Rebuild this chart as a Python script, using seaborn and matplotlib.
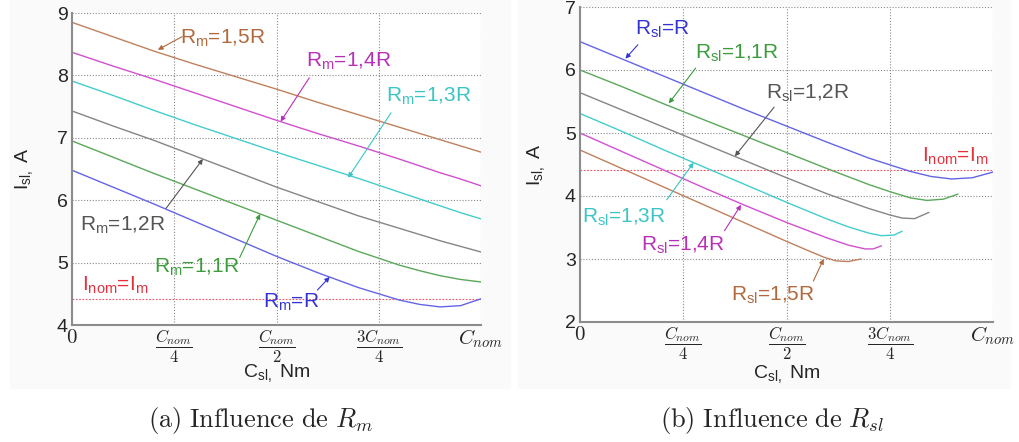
import matplotlib
matplotlib.use('Agg')
import matplotlib.pyplot as plt
from matplotlib.patches import Rectangle
import seaborn as sns
import pandas as pd

# ---- data, x in fractions of C_nom ----
# (a) influence of R_m
rm_names = ['R', '1,1R', '1,2R', '1,3R', '1,4R', '1,5R']
rm_x = [0, .1, .2, .3, .4, .5, .6, .7, .8, .85, .9, .95, 1.0]
rm_y = {
    'R':    [6.48, 6.21, 5.94, 5.66, 5.38, 5.10, 4.84, 4.60, 4.40, 4.33, 4.29, 4.31, 4.42],
    '1,1R': [6.95, 6.69, 6.43, 6.18, 5.93, 5.68, 5.43, 5.18, 4.96, 4.87, 4.79, 4.73, 4.69],
    '1,2R': [7.43, 7.19, 6.96, 6.71, 6.46, 6.21, 5.98, 5.75, 5.55, 5.45, 5.35, 5.26, 5.17],
    '1,3R': [7.91, 7.68, 7.44, 7.21, 6.99, 6.77, 6.56, 6.35, 6.13, 6.02, 5.91, 5.80, 5.70],
    '1,4R': [8.37, 8.15, 7.94, 7.72, 7.50, 7.28, 7.07, 6.87, 6.66, 6.55, 6.44, 6.34, 6.23],
    '1,5R': [8.85, 8.62, 8.39, 8.18, 7.98, 7.78, 7.57, 7.37, 7.17, 7.07, 6.97, 6.87, 6.77],
}

# (b) influence of R_sl (each curve stops at its own torque)
rsl_names = ['R', '1,1R', '1,2R', '1,3R', '1,4R', '1,5R']
rsl_x = {
    'R':    [0, .1, .2, .3, .4, .5, .6, .7, .8, .85, .9, .95, 1.0],
    '1,1R': [0, .1, .2, .3, .4, .5, .6, .7, .75, .8, .84, .88, .915],
    '1,2R': [0, .1, .2, .3, .4, .5, .6, .7, .75, .78, .81, .845],
    '1,3R': [0, .1, .2, .3, .4, .5, .6, .65, .7, .73, .76, .78],
    '1,4R': [0, .1, .2, .3, .4, .5, .6, .65, .69, .71, .73],
    '1,5R': [0, .1, .2, .3, .4, .5, .55, .59, .62, .65, .68],
}
rsl_y = {
    'R':    [6.45, 6.18, 5.91, 5.64, 5.37, 5.11, 4.85, 4.60, 4.39, 4.31, 4.27, 4.29, 4.38],
    '1,1R': [6.00, 5.74, 5.47, 5.21, 4.95, 4.69, 4.43, 4.18, 4.07, 3.97, 3.93, 3.95, 4.03],
    '1,2R': [5.64, 5.37, 5.10, 4.83, 4.56, 4.29, 4.03, 3.80, 3.70, 3.65, 3.64, 3.74],
    '1,3R': [5.31, 5.03, 4.74, 4.46, 4.18, 3.90, 3.63, 3.51, 3.41, 3.37, 3.38, 3.44],
    '1,4R': [5.00, 4.71, 4.42, 4.13, 3.85, 3.58, 3.33, 3.22, 3.16, 3.16, 3.21],
    '1,5R': [4.73, 4.44, 4.15, 3.86, 3.57, 3.28, 3.14, 3.03, 2.97, 2.96, 3.00],
}
i_nom = 4.42

x_ticks = [0, 0.25, 0.5, 0.75, 1.0]
x_ticklabels = ['$0$', r'$\dfrac{C_{nom}}{4}$', r'$\dfrac{C_{nom}}{2}$',
                r'$\dfrac{3C_{nom}}{4}$', r'$C_{nom}$']

line_colors = {'R': '#6464e6', '1,1R': '#5aa85a', '1,2R': '#858585',
               '1,3R': '#44cccc', '1,4R': '#d050d0', '1,5R': '#c0805c'}
text_colors = {'R': '#3434d4', '1,1R': '#3c9c3c', '1,2R': '#555555',
               '1,3R': '#3cc4c4', '1,4R': '#b830b8', '1,5R': '#b0683c'}
red = '#e8303c'

# label centre, arrow tail, arrow tip (data coords)
rm_notes = {
    '1,5R': ((0.369, 8.60), (0.269, 8.62), (0.21, 8.41)),
    '1,4R': ((0.676, 8.23), (0.58, 7.96), (0.51, 7.26)),
    '1,3R': ((0.872, 7.67), (0.78, 7.40), (0.675, 6.36)),
    '1,2R': ((0.125, 5.60), (0.23, 5.87), (0.32, 6.66)),
    '1,1R': ((0.306, 4.92), (0.41, 5.08), (0.46, 5.78)),
    'R':    ((0.535, 4.36), (0.60, 4.56), (0.63, 4.77)),
}
rsl_notes = {
    'R':    ((0.199, 6.64), (0.14, 6.40), (0.11, 6.18)),
    '1,1R': ((0.380, 6.26), (0.28, 6.03), (0.215, 5.47)),
    '1,2R': ((0.551, 5.63), (0.47, 5.41), (0.375, 4.63)),
    '1,3R': ((0.107, 3.66), (0.21, 3.94), (0.275, 4.53)),
    '1,4R': ((0.248, 3.21), (0.35, 3.45), (0.39, 3.86)),
    '1,5R': ((0.466, 2.43), (0.565, 2.65), (0.59, 3.00)),
}

sns.set_style('white')
plt.rcParams['font.family'] = ['Liberation Sans', 'DejaVu Sans']
plt.rcParams['mathtext.fontset'] = 'custom'
plt.rcParams['mathtext.rm'] = 'Liberation Sans'
plt.rcParams['mathtext.it'] = 'Liberation Sans:italic'
plt.rcParams['mathtext.bf'] = 'Liberation Sans:bold'

fig = plt.figure(figsize=(10.19, 4.42), dpi=100)
fig.patches.append(Rectangle((10 / 1019, 1 - 388 / 442), 500 / 1019, 388 / 442,
                             transform=fig.transFigure, color='#fafafa', zorder=-5))
fig.patches.append(Rectangle((518 / 1019, 1 - 388 / 442), 492 / 1019, 388 / 442,
                             transform=fig.transFigure, color='#fafafa', zorder=-5))

ax1 = fig.add_axes([72 / 1019, 1 - 325 / 442, 409 / 1019, 312 / 442])
ax2 = fig.add_axes([580 / 1019, 1 - 322 / 442, 413 / 1019, 315 / 442])

# long tables for seaborn
rows = []
for name in rm_names:
    for x, y in zip(rm_x, rm_y[name]):
        rows.append({'curve': name, 'C': x, 'I': y})
df_rm = pd.DataFrame(rows)
rows = []
for name in rsl_names:
    for x, y in zip(rsl_x[name], rsl_y[name]):
        rows.append({'curve': name, 'C': x, 'I': y})
df_rsl = pd.DataFrame(rows)

sns.lineplot(data=df_rm, x='C', y='I', hue='curve', palette=line_colors,
             estimator=None, sort=False, legend=False, lw=1.0, ax=ax1)
sns.lineplot(data=df_rsl, x='C', y='I', hue='curve', palette=line_colors,
             estimator=None, sort=False, legend=False, lw=1.0, ax=ax2)


def style_axes(ax, ylim):
    ax.set_facecolor('white')
    ax.set_xlim(0, 1)
    ax.set_ylim(*ylim)
    ax.axhline(i_nom, color='#f05060', lw=0.8, ls=(0, (1.5, 1.5)), zorder=1)
    ax.set_yticks(range(ylim[0], ylim[1] + 1))
    ax.tick_params(axis='both', length=0)
    ax.tick_params(axis='y', labelsize=14, pad=3)
    ax.tick_params(axis='x', pad=2)
    ax.set_xticks(x_ticks, labels=x_ticklabels, math_fontfamily='cm', fontsize=12)
    labs = ax.get_xticklabels()
    labs[0].set_fontsize(15)
    labs[-1].set_fontsize(15)
    ax.grid(True, color='#8a8a8a', lw=0.8, ls=(0, (1, 1.6)))
    for s in ['top', 'right']:
        ax.spines[s].set_visible(False)
    for s in ['left', 'bottom']:
        ax.spines[s].set_color('#8c8c8c')
        ax.spines[s].set_linewidth(1.5)
    ax.set_xlabel(r'C$_{\mathrm{sl},}$ Nm', fontsize=14)
    ax.set_ylabel(r'I$_{\mathrm{sl},}$ A', fontsize=14)


style_axes(ax1, (4, 9))
style_axes(ax2, (2, 7))
ax1.xaxis.set_label_coords(0.5, -0.12)
ax1.yaxis.set_label_coords(-0.09, 0.5)
ax2.xaxis.set_label_coords(0.5, -0.13)
ax2.yaxis.set_label_coords(-0.08, 0.5)


def notes(ax, notes_d, sub):
    for name, (txt, tail, tip) in notes_d.items():
        ax.text(txt[0], txt[1], 'R$_{\\mathrm{%s}}$=%s' % (sub, name),
                color=text_colors[name], fontsize=15, ha='center', va='center')
        ax.annotate('', xy=tip, xytext=tail,
                    arrowprops=dict(arrowstyle='-|>', color=text_colors[name],
                                    lw=0.8, mutation_scale=7, shrinkA=0, shrinkB=0))


notes(ax1, rm_notes, 'm')
notes(ax2, rsl_notes, 'sl')
ax1.text(0.106, 4.63, r'I$_{\mathrm{nom}}$=I$_{\mathrm{m}}$', color=red,
         fontsize=15, ha='center', va='center')
ax2.text(0.909, 4.63, r'I$_{\mathrm{nom}}$=I$_{\mathrm{m}}$', color=red,
         fontsize=15, ha='center', va='center')

fig.text(260 / 1019, 1 - 420 / 442, r'$\mathrm{(a)\ Influence\ de\ }R_m$',
         math_fontfamily='cm', fontsize=19, ha='center', va='center')
fig.text(772 / 1019, 1 - 420 / 442, r'$\mathrm{(b)\ Influence\ de\ }R_{sl}$',
         math_fontfamily='cm', fontsize=19, ha='center', va='center')

fig.savefig('out.png', dpi=100, facecolor='white')
